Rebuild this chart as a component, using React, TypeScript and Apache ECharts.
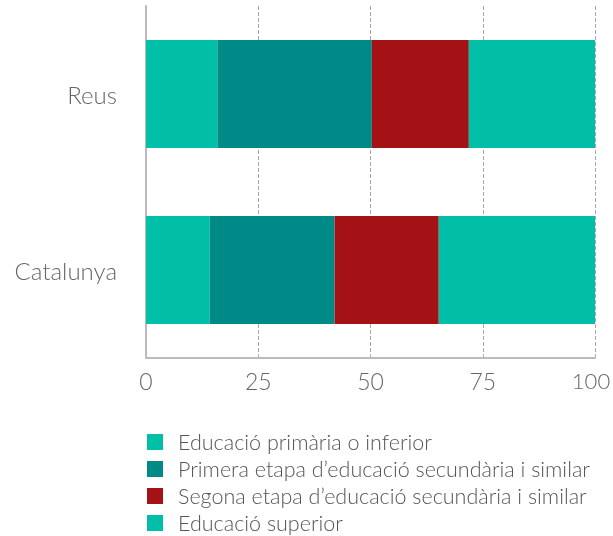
import React, { useEffect, useRef } from "react";
import * as echarts from "echarts";

const categories = ["Reus", "Catalunya"];
const seriesNames = [
  "Educació primària o inferior",
  "Primera etapa d’educació secundària i similar",
  "Segona etapa d’educació secundària i similar",
  "Educació superior",
];
const primaria = [15.9, 14.2];
const primeraEtapa = [34.4, 27.8];
const segonaEtapa = [21.6, 23.2];
const superior = [28.1, 34.8];
const xTicks = [0, 25, 50, 75, 100];
const colors = ["#00BFA6", "#008A87", "#A51216", "#00BFA6"];

export default function App() {
  const ref = useRef<HTMLDivElement>(null);
  useEffect(() => {
    if (!ref.current) return;
    const chart = echarts.init(ref.current, null, { renderer: "svg" });
    const values = [primaria, primeraEtapa, segonaEtapa, superior];
    const font = "Lato";
    const maxTick = xTicks[xTicks.length - 1];
    chart.setOption({
      animation: false,
      grid: { left: 146, right: 18, top: 6, bottom: 178, outerBoundsMode: "none", containLabel: false },
      legend: {
        orient: "vertical",
        left: 147,
        top: 431,
        padding: 0,
        itemWidth: 16,
        itemHeight: 16,
        itemGap: 5,
        icon: "rect",
        textStyle: {
          fontFamily: font,
          fontWeight: 300,
          fontSize: 21.5,
          lineHeight: 22,
          color: "#555",
          padding: [0, 0, 0, 10],
        },
        data: seriesNames,
      },
      xAxis: {
        type: "value",
        min: xTicks[0],
        max: maxTick,
        interval: xTicks[1] - xTicks[0],
        axisLine: { show: true, lineStyle: { color: "#bbb", width: 2 } },
        axisTick: { show: false },
        axisLabel: {
          fontFamily: font,
          fontWeight: 300,
          fontSize: 23,
          color: "#666",
          margin: 11,
          formatter: (v: number) => (v === maxTick ? `{last|${v}}` : `${v}`),
          rich: {
            last: {
              fontFamily: font,
              fontWeight: 300,
              fontSize: 22,
              color: "#666",
              padding: [0, 8, 0, 0],
            },
          },
        },
        splitLine: { show: true, lineStyle: { type: "dashed", color: "#aaa", width: 1 } },
      },
      yAxis: {
        type: "category",
        inverse: true,
        data: categories,
        axisLine: { show: true, lineStyle: { color: "#bbb", width: 2 } },
        axisTick: { show: false },
        axisLabel: { fontFamily: font, fontWeight: 300, fontSize: 24, color: "#666", margin: 29 },
      },
      series: seriesNames.map((name, i) => ({
        name,
        type: "bar",
        stack: "total",
        barWidth: 108,
        data: values[i],
        itemStyle: { color: colors[i] },
      })),
    });
    return () => chart.dispose();
  }, []);
  return (
    <div
      ref={ref}
      style={{ position: "fixed", left: 0, top: 0, width: 613, height: 536 }}
    />
  );
}
